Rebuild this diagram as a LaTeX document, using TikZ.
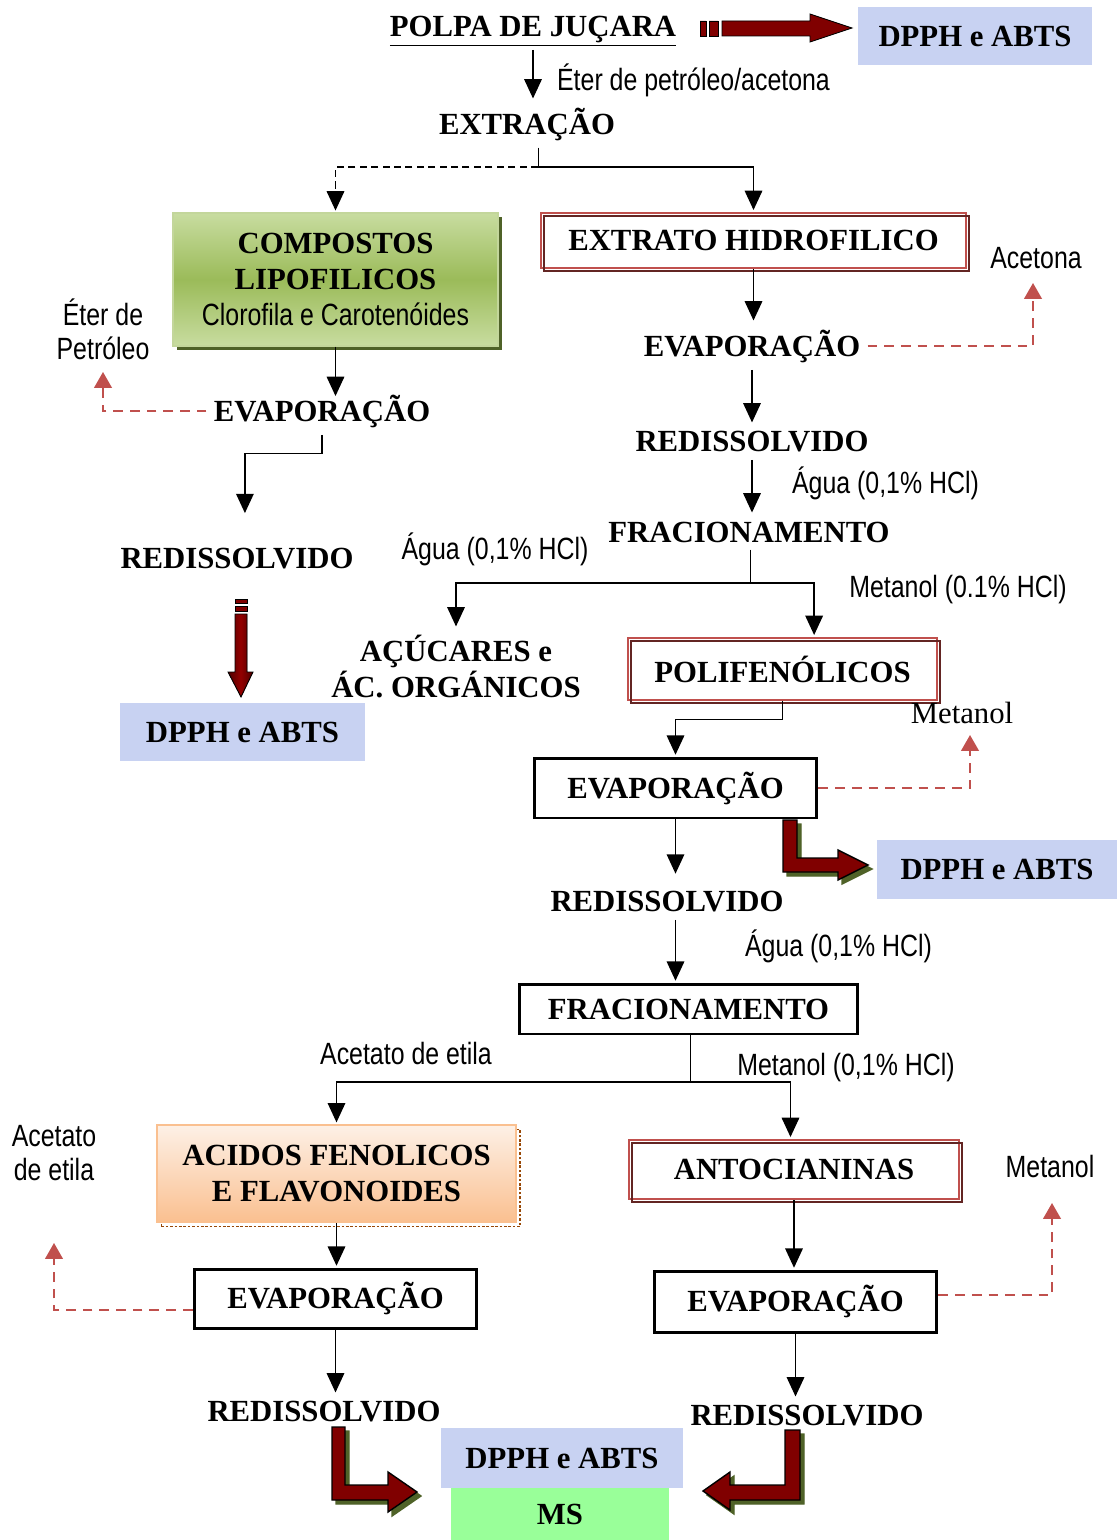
\documentclass[tikz,border=0pt]{standalone}
\usepackage{fontspec}
\setmainfont{Liberation Serif}
\setsansfont[FakeStretch=0.81]{Liberation Sans}
\usetikzlibrary{arrows.meta,shadows,positioning}

\definecolor{setared}{RGB}{192,80,77}
\definecolor{bordared}{RGB}{99,37,35}
\definecolor{vinho}{RGB}{128,0,0}
\definecolor{oliva}{RGB}{79,98,40}
\definecolor{verdeclaro}{RGB}{200,220,160}
\definecolor{verdeoliva}{RGB}{155,187,89}
\definecolor{pessego}{RGB}{250,192,144}
\definecolor{pessegoclaro}{RGB}{253,240,230}
\definecolor{marrom}{RGB}{152,72,7}
\definecolor{lavanda}{RGB}{200,210,242}
\definecolor{verdems}{RGB}{153,255,153}

\tikzset{
  titulo/.style={font=\bfseries\fontsize{17.5}{20.5}\selectfont, inner sep=4pt, align=center},
  nota/.style={font=\sffamily\fontsize{17.5}{19.5}\selectfont, inner sep=1pt, align=center},
  seta/.style={-{Triangle[length=11pt,width=10pt]}, line width=0.8pt, shorten >=1pt},
  perda/.style={-{Triangle[length=9pt,width=10pt]}, draw=setared, line width=1.1pt, dash pattern=on 5.5pt off 4pt},
  dpph/.style={titulo, fill=lavanda},
  caixapreta/.style={titulo, draw, line width=1.7pt, fill=white},
  caixavermelha/.style={titulo, draw=setared, line width=1.4pt, fill=white,
    postaction={draw=bordared, line width=0.9pt, transform canvas={shift={(1.8pt,-1.8pt)}}}},
  caixaverde/.style={titulo, draw=verdeoliva!60!white, line width=0.8pt,
    top color=verdeclaro, bottom color=verdeclaro, middle color=verdeoliva,
    drop shadow={shadow xshift=2.5pt, shadow yshift=-2.5pt, fill=oliva, opacity=1}},
  caixapessego/.style={titulo, draw=pessego, line width=1pt, top color=pessegoclaro, bottom color=pessego,
    preaction={draw=marrom, line width=1pt, dash pattern=on 1.5pt off 1pt, transform canvas={shift={(2.5pt,-2.5pt)}}}},
  ms/.style={titulo, fill=verdems}
}

\begin{document}
\begin{tikzpicture}[x=0.02cm,y=-0.02cm]
\useasboundingbox (0,0) rectangle (1117,1540);

\node[titulo, inner sep=2pt] (polpa) at (533,31) {\underline{POLPA DE JUÇARA}};
\node[dpph, minimum width=4.68cm, minimum height=1.16cm] (dpphA) at (975,36) {DPPH e ABTS};
\node[nota, anchor=west] (eter) at (555,80) {Éter de petróleo/acetona};
\node[titulo] (extracao) at (527,124) {EXTRAÇÃO};

% lado lipofilico
\node[caixaverde, minimum width=6.5cm, minimum height=2.66cm] (lipo) at (335.5,279.5)
  {COMPOSTOS\\LIPOFILICOS\\{\mdseries\sffamily Clorofila e Carotenóides}};
\node[nota] (eterB) at (103,329) {Éter de\\Petróleo};
\node[titulo] (evapB) at (322,411) {EVAPORAÇÃO};
\node[titulo] (redisB) at (237,559) {REDISSOLVIDO};
\node[dpph, minimum width=4.9cm, minimum height=1.16cm] (dpphB) at (242.5,732) {DPPH e ABTS};

% lado hidrofilico
\node[caixavermelha, minimum width=8.5cm, minimum height=1.1cm] (hidro) at (753.5,240.5) {EXTRATO HIDROFILICO};
\node[nota] (acetona) at (1036,258) {Acetona};
\node[titulo] (evapA) at (752,346) {EVAPORAÇÃO};
\node[titulo] (redisA) at (752,442) {REDISSOLVIDO};
\node[nota, anchor=west] (aguaA) at (790,483) {Água (0,1\% HCl)};
\node[titulo] (fracA) at (749,532) {FRACIONAMENTO};
\node[nota] (aguaB) at (495,549) {Água (0,1\% HCl)};
\node[nota] (metA) at (958,590) {Metanol (0.1\% HCl)};
\node[titulo] (acucar) at (456,667) {AÇÚCARES e\\ÁC. ORGÁNICOS};
\node[caixavermelha, minimum width=6.18cm, minimum height=1.24cm] (poli) at (782.5,669) {POLIFENÓLICOS};
\node[font=\fontsize{17.5}{20}\selectfont, inner sep=1pt] (metB) at (962,713) {Metanol};
\node[caixapreta, minimum width=5.66cm, minimum height=1.2cm] (evapC) at (675.5,788) {EVAPORAÇÃO};
\node[dpph, minimum width=4.8cm, minimum height=1.18cm] (dpphC) at (997,869.5) {DPPH e ABTS};
\node[titulo] (redisC) at (667,902) {REDISSOLVIDO};
\node[nota, anchor=west] (aguaC) at (743,946) {Água (0,1\% HCl)};
\node[caixapreta, minimum width=6.78cm, minimum height=1cm] (fracB) at (688.5,1009) {FRACIONAMENTO};
\node[nota] (acetA) at (406,1053) {Acetato de etila};
\node[nota] (metC) at (846,1068) {Metanol (0,1\% HCl)};
\node[caixapessego, minimum width=7.18cm, minimum height=1.94cm] (fenol) at (336.5,1173.5) {ACIDOS FENOLICOS\\E FLAVONOIDES};
\node[caixavermelha, minimum width=6.6cm, minimum height=1.18cm] (anto) at (794,1169.5) {ANTOCIANINAS};
\node[nota] (acetB) at (54,1153) {Acetato\\de etila};
\node[nota] (metD) at (1050,1166) {Metanol};
\node[caixapreta, minimum width=5.66cm, minimum height=1.18cm] (evapD) at (335.5,1298.5) {EVAPORAÇÃO};
\node[caixapreta, minimum width=5.66cm, minimum height=1.22cm] (evapE) at (795.5,1301.5) {EVAPORAÇÃO};
\node[titulo] (redisD) at (324,1412) {REDISSOLVIDO};
\node[titulo] (redisE) at (807,1416) {REDISSOLVIDO};
\node[dpph, minimum width=4.84cm, minimum height=1.2cm] (dpphD) at (562,1458) {DPPH e ABTS};
\node[ms, minimum width=4.36cm, minimum height=1.04cm] (ms) at (560,1514) {MS};

\coordinate (c1) at (538,167);
\coordinate (c2) at (750,583);
\coordinate (c3) at (690,1082);
\coordinate (sA) at (1033,283);
\coordinate (sB) at (970,735);
\coordinate (sC) at (54,1243);
\coordinate (sD) at (1052,1203);
\coordinate (sE) at (103,372);

\draw[seta] (polpa.south) -- (polpa.south |- extracao.north);
\draw (extracao.south -| c1) -- (c1);
\draw[seta] (c1) -| (hidro.north);
\draw[seta, dash pattern=on 4pt off 2.5pt] (c1) -| (lipo.north);

\draw[seta] (lipo.south) -- ([yshift=-6pt]lipo.south |- evapB.north);
\draw[perda] (evapB.west) -| (sE);
\draw[seta, shorten >=16pt] (evapB.south) -- ++(0,19) -| ([xshift=4.5pt]redisB.north);

\draw[seta] (hidro.south) -- (hidro.south |- evapA.north);
\draw[perda] (evapA.east) -| (sA);
\draw[seta] (evapA.south) -- (redisA.north);
\draw[seta] (redisA.south) -- (redisA.south |- fracA.north);
\draw (fracA.south -| c2) -- (c2);
\draw[seta] (c2) -| (acucar.north);
\draw[seta] (c2) -| ([xshift=18pt]poli.north);
\draw[seta] (poli.south) -- ++(0,18) -| (evapC.north);
\draw[perda] (evapC.east) -| (sB);
\draw[seta, shorten >=6pt] (evapC.south) -- (evapC.south |- redisC.north);
\draw[seta] (evapC.south |- redisC.south) -- (evapC.south |- fracB.north);
\draw (fracB.south -| c3) -- (c3);
\draw[seta] (c3) -| (fenol.north);
\draw[seta] (c3) -| ([xshift=-2pt]anto.north);
\draw[seta] (fenol.south) -- (fenol.south |- evapD.north);
\draw[seta] (anto.south) -- (anto.south |- evapE.north);
\draw[perda] ([yshift=-6.5pt]evapD.west) -| (sC);
\draw[perda] ([yshift=3.7pt]evapE.east) -| (sD);
\draw[seta] (evapD.south) -- (evapD.south |- redisD.north);
\draw[seta] (evapE.south) -- (evapE.south |- redisE.north);

% setas grossas
\filldraw[fill=vinho, line width=0.5pt] (700,21) rectangle (706,36) (709,21) rectangle (718,36);
\filldraw[fill=vinho, line width=0.5pt] (722,21) -- (810,21) -- (810,14) -- (852,28) -- (810,42) -- (810,36) -- (722,36) -- cycle;
\filldraw[fill=vinho, line width=0.5pt] (235,599) rectangle (247,603) (235,606) rectangle (247,611);
\filldraw[left color=vinho!60!black, right color=vinho!60!black, middle color=vinho!85!red, line width=0.5pt]
  (235,614) -- (247,614) -- (247,672) -- (253,672) -- (241,697) -- (228,672) -- (235,672) -- cycle;
\foreach \d/\c/\b in {4/oliva/oliva,0/vinho/black} {
  \filldraw[fill=\c, draw=\b, line width=0.8pt, shift={(\d,\d)}] (783,820) -- (797,820) -- (797,858) -- (838,858) -- (838,850) -- (868,865) -- (838,880) -- (838,872) -- (783,872) -- cycle;
  \filldraw[fill=\c, draw=\b, line width=0.8pt, shift={(\d,\d)}] (332,1427) -- (345,1427) -- (345,1485) -- (388,1485) -- (388,1472) -- (417,1492) -- (388,1512) -- (388,1500) -- (332,1500) -- cycle;
  \filldraw[fill=\c, draw=\b, line width=0.8pt, shift={(\d,\d)}] (785,1430) -- (800,1430) -- (800,1500) -- (730,1500) -- (730,1510) -- (703,1491) -- (730,1472) -- (730,1485) -- (785,1485) -- cycle;
}
\end{tikzpicture}
\end{document}
